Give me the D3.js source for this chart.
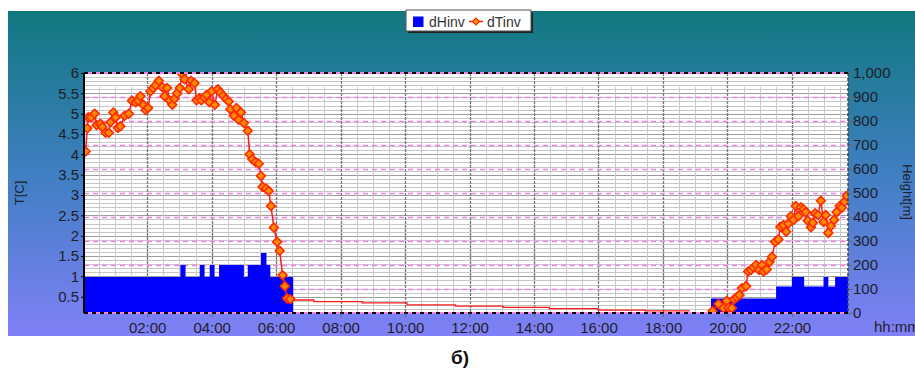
<!DOCTYPE html>
<html>
<head>
<meta charset="utf-8">
<script src="https://cdn.jsdelivr.net/npm/d3@7/dist/d3.min.js"></script>
<style>
body { margin: 0; background: #fff; }
svg { display: block; font-family: "Liberation Sans", Arial, sans-serif; }
</style>
</head>
<body>
<svg width="915" height="369"></svg>
<script>
// dTinv, left axis (T, C) - decimal hours
var tempTimes1 = [0.09, 0.14, 0.17, 0.26, 0.37, 0.43, 0.55, 0.61, 0.71, 0.81,
                  0.86, 0.95, 1.02, 1.09, 1.17, 1.30, 1.43, 1.53, 1.64, 1.72,
                  1.79, 1.88, 1.95, 2.03, 2.10, 2.19, 2.26, 2.36, 2.47, 2.54,
                  2.62, 2.70, 2.78, 2.85, 2.93, 3.01, 3.09, 3.16, 3.29, 3.36,
                  3.47, 3.53, 3.62, 3.68, 3.78, 3.84, 3.93, 4.00, 4.10, 4.19,
                  4.27, 4.36, 4.45, 4.53, 4.58, 4.69, 4.77, 4.84, 4.91, 5.00,
                  5.12, 5.18, 5.26, 5.36, 5.46, 5.53, 5.58, 5.69, 5.77, 5.84,
                  5.93, 6.03, 6.11, 6.20, 6.27, 6.34, 6.44];
var tempValues1 = [4.07, 4.64, 4.91, 4.91, 5.00, 4.72, 4.75, 4.67, 4.53, 4.53,
                   4.79, 5.03, 4.91, 4.65, 4.69, 4.95, 5.00, 5.32, 5.28, 5.32,
                   5.43, 5.22, 5.09, 5.14, 5.55, 5.63, 5.70, 5.81, 5.65, 5.43,
                   5.63, 5.32, 5.22, 5.37, 5.50, 5.63, 5.97, 5.85, 5.60, 5.81,
                   5.75, 5.33, 5.38, 5.33, 5.40, 5.46, 5.28, 5.55, 5.22, 5.60,
                   5.52, 5.44, 5.36, 5.30, 5.11, 4.95, 5.14, 4.85, 5.03, 4.77,
                   4.58, 4.00, 3.88, 3.81, 3.77, 3.47, 3.20, 3.16, 3.10, 2.73,
                   2.20, 1.85, 1.63, 1.03, 0.76, 0.46, 0.44];

// unmarked stepped stretch of dTinv
var tailTimes = [6.44, 7.17, 8.67, 10.06, 11.56, 13.04, 14.47, 15.99, 17.45, 18.83];
var tailValues = [0.42, 0.38, 0.35, 0.30, 0.27, 0.24, 0.21, 0.17, 0.15, 0.15];

var tempTimes2 = [19.54, 19.72, 19.88, 19.98, 20.03, 20.14, 20.21, 20.29, 20.37, 20.45,
                  20.58, 20.64, 20.73, 20.81, 20.89, 20.98, 21.07, 21.12, 21.22, 21.31,
                  21.38, 21.48, 21.58, 21.64, 21.74, 21.82, 21.89, 21.97, 22.05, 22.12,
                  22.20, 22.28, 22.36, 22.43, 22.49, 22.59, 22.65, 22.72, 22.81, 22.90,
                  22.98, 23.05, 23.13, 23.21, 23.31, 23.39, 23.48, 23.55, 23.63, 23.70];
var tempValues2 = [0.15, 0.32, 0.22, 0.40, 0.23, 0.22, 0.44, 0.49, 0.54, 0.71,
                   0.76, 1.12, 1.16, 1.22, 1.28, 1.16, 1.28, 1.12, 1.17, 1.36,
                   1.48, 1.85, 1.91, 2.22, 2.26, 2.10, 2.30, 2.48, 2.39, 2.73,
                   2.48, 2.70, 2.65, 2.58, 2.37, 2.21, 2.32, 2.55, 2.51, 2.86,
                   2.34, 2.51, 2.07, 2.24, 2.39, 2.58, 2.73, 2.69, 2.84, 2.98];

// dHinv, right axis (Height, m), step series
var heightTimes = [0.04, 3.03, 3.19, 3.63, 3.78, 3.94, 4.09, 4.23, 5.00, 5.12,
                   5.53, 5.70, 5.82, 6.53, 19.49, 21.51, 22.00, 22.38, 22.98, 23.13,
                   23.34, 23.74];
var heightValues = [150, 200, 150, 200, 150, 200, 150, 200, 150, 200,
                    250, 200, 150, 0, 60, 110, 150, 110, 150, 110,
                    150, 150];

var timeDomain = [0.04, 23.74];
var timeTicks = [2, 4, 6, 8, 10, 12, 14, 16, 18, 20, 22];
var tempTicks = [0.5, 1, 1.5, 2, 2.5, 3, 3.5, 4, 4.5, 5, 5.5, 6];
var heightTicks = [0, 100, 200, 300, 400, 500, 600, 700, 800, 900, 1000];
var legendNames = ["dHinv", "dTinv"];

var svg = d3.select("svg"),
    width = +svg.attr("width"),
    height = +svg.attr("height"),
    margin = {top: 73, right: 67, bottom: 56, left: 84},
    w = width - margin.left - margin.right,
    h = height - margin.top - margin.bottom;

var x = d3.scaleLinear().domain(timeDomain).range([0, w]),
    yL = d3.scaleLinear().domain([0.1, 6]).range([h, 0]),
    yR = d3.scaleLinear().domain([0, 1000]).range([h, 0]);

var defs = svg.append("defs");
var grad = defs.append("linearGradient").attr("id", "bg")
    .attr("x1", 0).attr("y1", 0).attr("x2", 0).attr("y2", 1);
grad.append("stop").attr("offset", "0%").attr("stop-color", "#11787f");
grad.append("stop").attr("offset", "50%").attr("stop-color", "#3f7fc2");
grad.append("stop").attr("offset", "100%").attr("stop-color", "#8080f7");
defs.append("clipPath").attr("id", "clip")
  .append("rect").attr("width", w).attr("height", h);

svg.append("rect")
    .attr("x", 8).attr("y", 11).attr("width", width - 8).attr("height", 325)
    .attr("fill", "url(#bg)");

var g = svg.append("g").attr("transform", "translate(" + margin.left + "," + margin.top + ")");

g.append("rect").attr("width", w).attr("height", h).attr("fill", "#fff");

// horizontal grid
g.append("g").selectAll("line")
    .data(d3.range(2, 60).map(function(d) { return d / 10; }))
    .enter().append("line")
      .attr("x1", 0).attr("x2", w)
      .attr("y1", function(d) { return Math.round(yL(d)) + 0.5; })
      .attr("y2", function(d) { return Math.round(yL(d)) + 0.5; })
      .attr("stroke", "#c6c6c6");

g.append("g").selectAll("line")
    .data(tempTicks)
    .enter().append("line")
      .attr("x1", 0).attr("x2", w)
      .attr("y1", function(d) { return Math.round(yL(d)) + 0.5; })
      .attr("y2", function(d) { return Math.round(yL(d)) + 0.5; })
      .attr("stroke", "#9c9c9c");

// vertical grid
g.append("g").selectAll("line")
    .data(d3.range(1, 48).map(function(d) { return d / 2; }).filter(function(d) { return d % 2 != 0; }))
    .enter().append("line")
      .attr("x1", function(d) { return Math.round(x(d)) + 0.5; })
      .attr("x2", function(d) { return Math.round(x(d)) + 0.5; })
      .attr("y1", 14).attr("y2", h)
      .attr("stroke", "#c8c8c8");

g.append("g").selectAll("line")
    .data(timeTicks)
    .enter().append("line")
      .attr("x1", function(d) { return Math.round(x(d)) + 0.5; })
      .attr("x2", function(d) { return Math.round(x(d)) + 0.5; })
      .attr("y1", 0).attr("y2", h)
      .attr("stroke", "#777")
      .attr("stroke-width", 1.3)
      .attr("stroke-dasharray", "3,1");

// pink dashed lines at the height ticks
g.append("g").selectAll("line")
    .data(heightTicks.slice(1, -1))
    .enter().append("line")
      .attr("x1", 0).attr("x2", w)
      .attr("y1", function(d) { return Math.round(yR(d)) + 0.5; })
      .attr("y2", function(d) { return Math.round(yR(d)) + 0.5; })
      .attr("stroke", "#f080f0")
      .attr("stroke-width", 1.5)
      .attr("stroke-dasharray", "5,4");

var marks = g.append("g").attr("clip-path", "url(#clip)");

// dHinv area
var heightData = heightTimes.map(function(t, i) { return {t: t, v: heightValues[i]}; });
marks.append("path")
    .datum(heightData)
    .attr("fill", "#0000ff")
    .attr("d", d3.area()
        .x(function(d) { return x(d.t); })
        .y0(h)
        .y1(function(d) { return yR(d.v); })
        .curve(d3.curveStepAfter));

// dTinv
var tail = tailTimes.map(function(t, i) { return {t: t, v: tailValues[i]}; });
var seg1 = tempTimes1.map(function(t, i) { return {t: t, v: tempValues1[i]}; });
var seg2 = tempTimes2.map(function(t, i) { return {t: t, v: tempValues2[i]}; });

marks.append("path")
    .datum(tail)
    .attr("fill", "none")
    .attr("stroke", "#ff1a1a")
    .attr("stroke-width", 1.3)
    .attr("d", d3.line()
        .x(function(d) { return x(d.t); })
        .y(function(d) { return yL(d.v); })
        .curve(d3.curveStepAfter));

var line = d3.line()
    .x(function(d) { return x(d.t); })
    .y(function(d) { return yL(d.v); });

[seg1, seg2].forEach(function(seg) {
  marks.append("path")
      .datum(seg)
      .attr("fill", "none")
      .attr("stroke", "#ff1a1a")
      .attr("stroke-width", 1.5)
      .attr("d", line);
});

var sym = d3.symbol().type(d3.symbolSquare).size(40);
marks.append("g").selectAll("path")
    .data(seg1.concat(seg2))
    .enter().append("path")
      .attr("d", sym)
      .attr("transform", function(d) { return "translate(" + x(d.t) + "," + yL(d.v) + ") rotate(45)"; })
      .attr("fill", "#ff8c00")
      .attr("stroke", "#ff2a00")
      .attr("stroke-width", 1.6)
      .attr("stroke-linejoin", "round");

// frame: top and bottom black/pink dashes
[0, h].forEach(function(yy) {
  g.append("line").attr("x1", 0).attr("x2", w).attr("y1", yy).attr("y2", yy)
      .attr("stroke", "#000").attr("stroke-width", 2).attr("stroke-dasharray", "4,4");
  g.append("line").attr("x1", 0).attr("x2", w).attr("y1", yy).attr("y2", yy)
      .attr("stroke", "#f080f0").attr("stroke-width", 2).attr("stroke-dasharray", "4,4")
      .attr("stroke-dashoffset", 4);
});

// axes
var axisColor = "#1e1e2a";

var leftAxis = g.append("g")
    .call(d3.axisLeft(yL).tickValues(tempTicks).tickSize(3).tickPadding(2)
        .tickFormat(d3.format("")));
leftAxis.select(".domain").remove();
leftAxis.selectAll(".tick line").attr("stroke", "#000");
leftAxis.selectAll("text").attr("fill", axisColor).style("font-size", "15px");
g.append("line").attr("x1", 0).attr("x2", 0).attr("y1", 0).attr("y2", h)
    .attr("stroke", "#000").attr("stroke-width", 2);

var rightAxis = g.append("g")
    .attr("transform", "translate(" + w + ",0)")
    .call(d3.axisRight(yR).tickValues(heightTicks).tickSize(4).tickPadding(1)
        .tickFormat(d3.format(",")));
rightAxis.select(".domain").remove();
rightAxis.selectAll(".tick line").attr("stroke", "#666");
rightAxis.selectAll("text").attr("fill", axisColor).style("font-size", "15px");
g.append("line").attr("x1", w).attr("x2", w).attr("y1", 0).attr("y2", h)
    .attr("stroke", "#444").attr("stroke-width", 1.5).attr("stroke-dasharray", "3,2");

var bottomAxis = g.append("g")
    .attr("transform", "translate(0," + h + ")")
    .call(d3.axisBottom(x).tickValues(timeTicks).tickSize(4).tickPadding(5)
        .tickFormat(function(d) { return (d < 10 ? "0" : "") + d + ":00"; }));
bottomAxis.select(".domain").remove();
bottomAxis.selectAll(".tick line").attr("stroke", "#666");
bottomAxis.selectAll("text").attr("fill", axisColor).style("font-size", "15px");

// axis titles
svg.append("text")
    .attr("transform", "translate(24,193) rotate(-90)")
    .attr("text-anchor", "middle")
    .attr("fill", axisColor)
    .style("font-size", "13px")
    .text("T[C]");

svg.append("text")
    .attr("transform", "translate(903,192) rotate(90)")
    .attr("text-anchor", "middle")
    .attr("fill", axisColor)
    .style("font-size", "13px")
    .text("Height[m]");

svg.append("text")
    .attr("x", 874).attr("y", 332)
    .attr("fill", axisColor)
    .style("font-size", "15px")
    .text("hh:mm");

// legend
var legend = svg.append("g");
legend.append("rect").attr("x", 408).attr("y", 12).attr("width", 125).attr("height", 21).attr("fill", "#222");
legend.append("rect").attr("x", 406).attr("y", 10).attr("width", 125).attr("height", 21)
    .attr("fill", "#fff").attr("stroke", "#555");
legend.append("rect").attr("x", 413).attr("y", 16.5).attr("width", 10.5).attr("height", 10.5).attr("fill", "#0000ff");
legend.append("text").attr("x", 429).attr("y", 26.5).attr("fill", "#333").style("font-size", "14px").text(legendNames[0]);
legend.append("line").attr("x1", 469).attr("x2", 483).attr("y1", 21.5).attr("y2", 21.5)
    .attr("stroke", "#ff1a1a").attr("stroke-width", 1.5);
legend.append("path").attr("d", d3.symbol().type(d3.symbolSquare).size(24))
    .attr("transform", "translate(476,21.5) rotate(45)")
    .attr("fill", "#ff8c00").attr("stroke", "#ff2a00").attr("stroke-width", 1.2);
legend.append("text").attr("x", 487).attr("y", 26.5).attr("fill", "#333").style("font-size", "14px").text(legendNames[1]);

// caption
svg.append("text")
    .attr("x", 460).attr("y", 364)
    .attr("text-anchor", "middle")
    .attr("fill", "#111")
    .style("font-size", "19px")
    .style("font-weight", "bold")
    .text("б)");
</script>
</body>
</html>
